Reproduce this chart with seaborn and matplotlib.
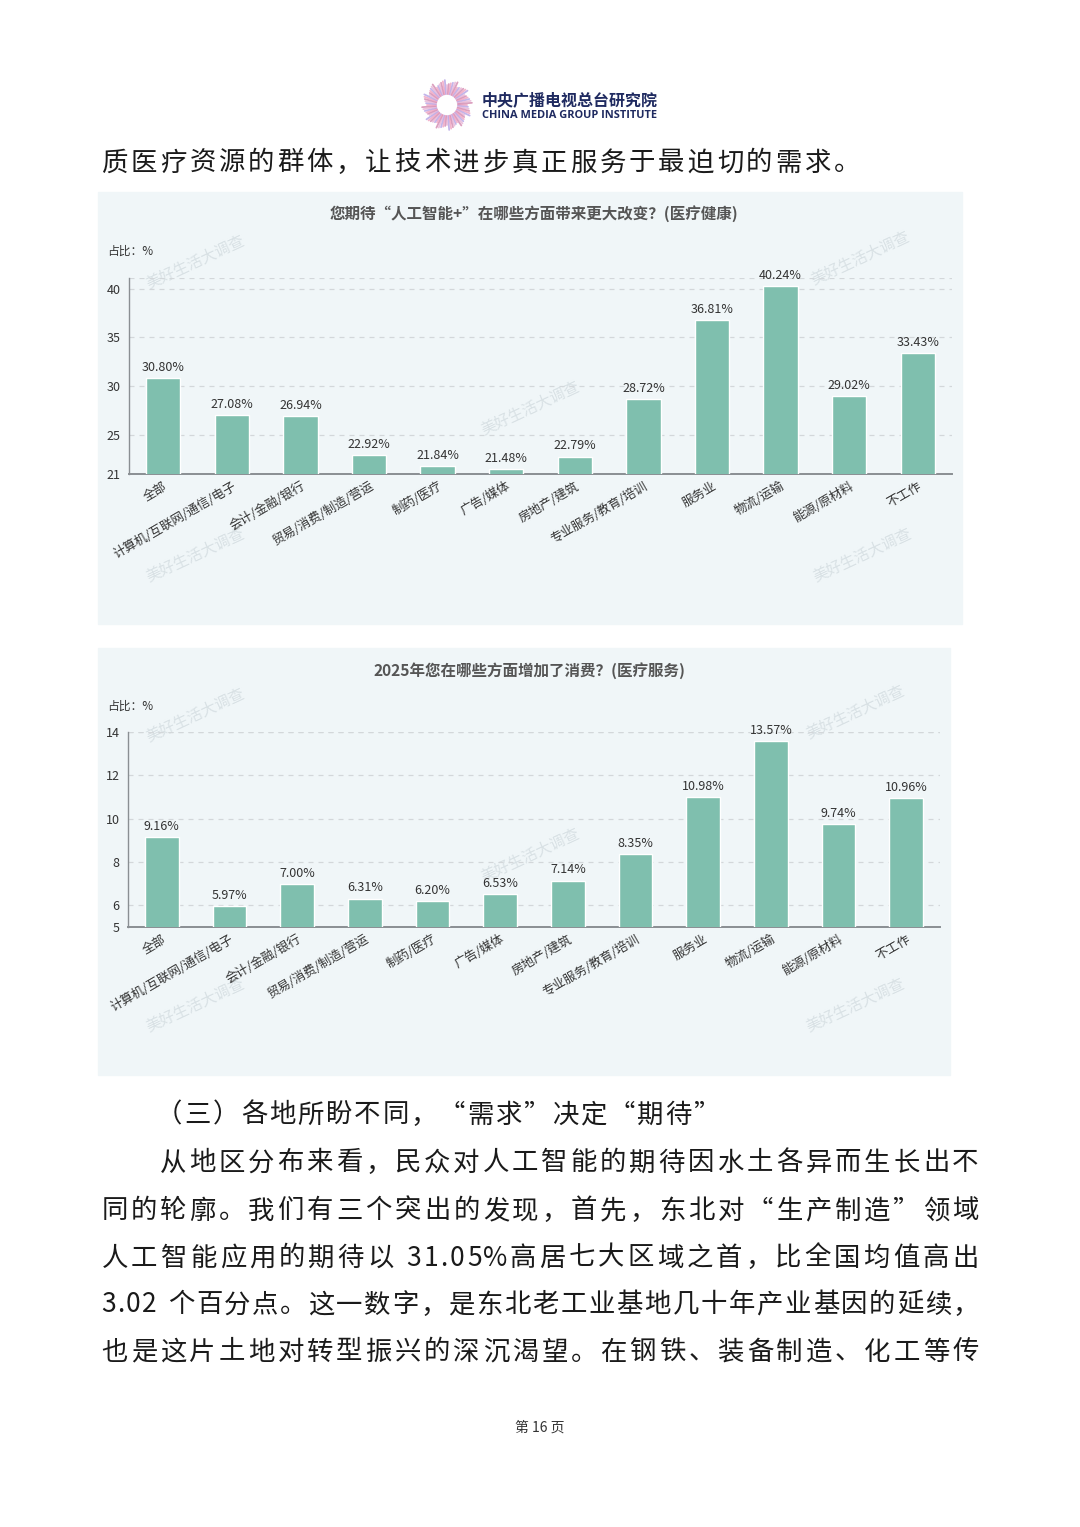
import numpy as np
import pandas as pd
import matplotlib
matplotlib.use("Agg")
import matplotlib.pyplot as plt
import seaborn as sns
from matplotlib.patches import Rectangle

sns.set_theme(style="white")
plt.rcParams["font.family"] = ["Noto Sans CJK SC", "DejaVu Sans"]

# 行业类别（两张图相同）
categories = ["全部", "计算机/互联网/通信/电子", "会计/金融/银行", "贸易/消费/制造/营运",
              "制药/医疗", "广告/媒体", "房地产/建筑", "专业服务/教育/培训",
              "服务业", "物流/运输", "能源/原材料", "不工作"]

# 图1：期待“人工智能+”带来更大改变（医疗健康）
values_expect = [30.80, 27.08, 26.94, 22.92, 21.84, 21.48, 22.79, 28.72,
                 36.81, 40.24, 29.02, 33.43]
ticks_expect = [21, 25, 30, 35, 40]

# 图2：2025年增加消费（医疗服务）
values_spend = [9.16, 5.97, 7.00, 6.31, 6.20, 6.53, 7.14, 8.35,
                10.98, 13.57, 9.74, 10.96]
ticks_spend = [5, 6, 8, 10, 12, 14]

title_expect = "您期待“人工智能+”在哪些方面带来更大改变？(医疗健康)"
title_spend = "2025年您在哪些方面增加了消费？(医疗服务)"

W, H = 1080, 1527
fig = plt.figure(figsize=(W / 100, H / 100), dpi=100)
fig.patch.set_facecolor("white")

# 整页坐标（像素）
page = fig.add_axes([0, 0, 1, 1], zorder=0)
page.set_xlim(0, W)
page.set_ylim(H, 0)
page.axis("off")

BAR = "#7fbfae"
PANEL = "#f0f6f8"
TXT = "#1a1a1a"

# 半角字符的相对宽度（全角 = 1）
HALF = {"%": 0.85, ".": 0.3, " ": 0.35}


def px_axes(left, right, top, bottom):
    return fig.add_axes([left / W, 1 - bottom / H, (right - left) / W, (bottom - top) / H], zorder=2)


def put_line(s, x0, y, unit, x1=None, size=19, color=TXT):
    widths = [HALF.get(c, 0.58) if ord(c) < 128 else 1.0 for c in s]
    if x1 is not None:
        unit = (x1 - x0) / sum(widths)
    x = x0
    for c, w in zip(s, widths):
        if c != " ":
            page.text(x + w * unit / 2, y, c, ha="center", va="center", fontsize=size, color=color)
        x += w * unit


def watermark(x, y):
    page.text(x, y, "美好生活大调查", fontsize=11, color="#c9d3d8", alpha=0.6,
              rotation=25, ha="center", va="center", zorder=5)


def draw_chart(ax, vals, ticks, ylim):
    df = pd.DataFrame({"cat": categories, "val": vals})
    sns.barplot(data=df, x="cat", y="val", order=categories, color=BAR,
                width=0.5, saturation=1, ax=ax, zorder=3)
    ax.set_facecolor("none")
    ax.set_ylim(*ylim)
    ax.set_xlim(-0.5, len(categories) - 0.5)
    ax.set_yticks(ticks)
    ax.set_xlabel("")
    ax.set_ylabel("")
    for t in ticks[1:]:
        ax.axhline(t, color="#d3d7da", lw=0.9, ls=(0, (4, 4)), zorder=1)
    ax.axhline(ylim[1], color="#d3d7da", lw=0.9, ls=(0, (4, 4)), zorder=1)
    for sp in ["top", "right"]:
        ax.spines[sp].set_visible(False)
    ax.spines["left"].set_color("#8a8f93")
    ax.spines["left"].set_linewidth(1.0)
    ax.spines["bottom"].set_color("#8a8f93")
    ax.spines["bottom"].set_linewidth(1.4)
    ax.tick_params(axis="y", length=0, labelsize=9, labelcolor="#333333", pad=6)
    ax.tick_params(axis="x", length=0, labelsize=9, labelcolor="#333333", pad=4)
    for lab in ax.get_xticklabels():
        lab.set_rotation(30)
        lab.set_ha("right")
        lab.set_rotation_mode("anchor")
    ax.bar_label(ax.containers[0], labels=[f"{v:.2f}%" for v in vals],
                 padding=3, fontsize=9, color="#333333")


# ---- 页眉 ----
cx, cy = 447, 105
for i in range(72):
    a = 2 * np.pi * i / 72
    r2 = 20 + (i * 7) % 6
    col = ["#f2a7c3", "#b9a8e6", "#e8b8d8", "#d58fb4"][i % 4]
    page.plot([cx + 11 * np.cos(a), cx + r2 * np.cos(a)],
              [cy + 11 * np.sin(a), cy + r2 * np.sin(a)], color=col, lw=1.3, alpha=0.85)
page.text(482, 100, "中央广播电视总台研究院", fontsize=11.5, fontweight="bold",
          color="#1f2a60", ha="left", va="center")
page.text(482, 115, "CHINA MEDIA GROUP INSTITUTE", fontsize=7.9, fontweight="bold",
          color="#1f2a60", ha="left", va="center", family=["Open Sans", "DejaVu Sans"])

# ---- 正文上行 ----
put_line("质医疗资源的群体，让技术进步真正服务于最迫切的需求。", 100, 163, 29.3)

# ---- 图1 ----
page.add_patch(Rectangle((98, 192), 864, 432, color=PANEL, zorder=1))
page.text(534, 214, title_expect, fontsize=11.2, fontweight="bold", color="#555555",
          ha="center", va="center", zorder=3)
page.text(107, 251, "占比：%", fontsize=8.5, color="#333333", ha="left", va="center", zorder=3)
ax1 = px_axes(129, 952, 278, 474)
draw_chart(ax1, values_expect, ticks_expect, (21, 41.1))
for x, y in [(195, 262), (530, 408), (860, 258), (195, 555), (862, 555)]:
    watermark(x, y)

# ---- 图2 ----
page.add_patch(Rectangle((98, 648), 852, 427, color=PANEL, zorder=1))
page.text(529, 671, title_spend, fontsize=11.2, fontweight="bold", color="#555555",
          ha="center", va="center", zorder=3)
page.text(107, 706, "占比：%", fontsize=8.5, color="#333333", ha="left", va="center", zorder=3)
ax2 = px_axes(128, 940, 732, 927)
draw_chart(ax2, values_spend, ticks_spend, (5, 14))
for x, y in [(195, 715), (530, 855), (855, 712), (195, 1005), (855, 1005)]:
    watermark(x, y)

# ---- 正文下段 ----
put_line("（三）各地所盼不同，“需求”决定“期待”", 155, 1115, 28.3)
put_line("从地区分布来看，民众对人工智能的期待因水土各异而生长出不", 158, 1163, 0, x1=980)
put_line("同的轮廓。我们有三个突出的发现，首先，东北对“生产制造”领域", 100, 1211, 0, x1=980)
put_line("人工智能应用的期待以 31.05%高居七大区域之首，比全国均值高出", 100, 1258, 0, x1=980)
put_line("3.02 个百分点。这一数字，是东北老工业基地几十年产业基因的延续，", 100, 1305, 0, x1=980)
put_line("也是这片土地对转型振兴的深沉渴望。在钢铁、装备制造、化工等传", 100, 1352, 0, x1=980)

page.text(540, 1428, "第 16 页", fontsize=10, color="#333333", ha="center", va="center")

fig.savefig("out.png", dpi=100, facecolor="white")
